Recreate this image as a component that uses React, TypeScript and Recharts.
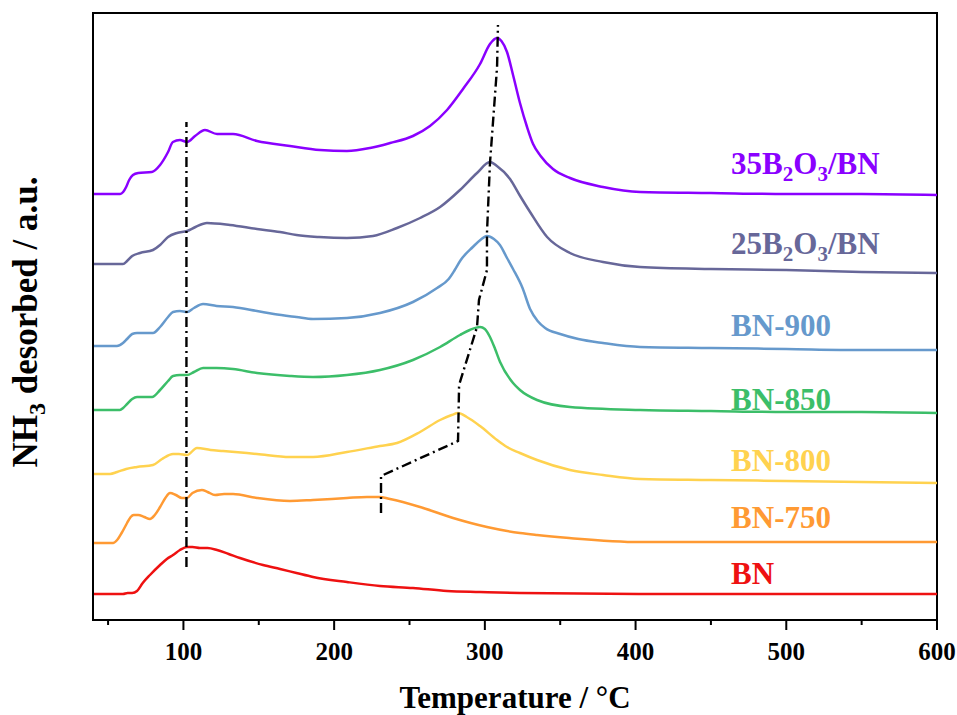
import React from 'react';
import { LineChart, Line, XAxis, YAxis, ReferenceArea, ReferenceDot } from 'recharts';

type Pt = { t: number; v: number };
const pts = (a: number[][]): Pt[] => a.map(([t, v]) => ({ t, v }));

// NH3-TPD traces, stacked (a.u.), temperature in °C
const bn = pts([
  [40, 26], [50, 26], [59.9, 26], [63, 27], [66, 27], [69.2, 29], [73, 37], [77.8, 45], [84.5, 55], [89, 61],
  [93.1, 65], [97.7, 70], [102.4, 73], [106, 73], [111, 72], [116, 72], [122.3, 70], [130, 66], [137.5, 62],
  [152.8, 55], [164.1, 51], [175, 47], [186, 43], [208.5, 38], [230.4, 34], [252.3, 32], [274.9, 29],
  [296.8, 28], [323.3, 27], [403, 26], [450, 26], [500, 26], [550, 26], [600, 26],
]);

const bn750 = pts([
  [40, 77], [50, 77], [53.3, 77], [56, 80], [59, 87], [62.6, 97], [65, 103], [67, 105], [70, 105], [74, 103],
  [77.8, 101], [81, 105], [84.5, 113], [88, 122], [91.1, 127], [95, 125], [99, 122], [102.4, 122], [106, 127],
  [112.3, 130], [116, 128], [121, 125], [127, 126], [132.9, 126], [148.8, 122], [170.7, 119], [186, 120],
  [208.5, 122], [221.8, 123], [230, 123], [237.1, 121], [257, 113], [278.9, 102], [301.4, 93], [323.3, 87],
  [334.6, 85], [356, 82], [403, 78], [450, 78], [500, 78], [550, 78], [600, 78],
]);

const bn800 = pts([
  [40, 146], [51.3, 146], [56, 148], [62, 151], [69.2, 153], [79.8, 155], [85.8, 161], [93.1, 166], [97, 166],
  [102.4, 165], [109, 172], [118, 170], [126.3, 169], [148.8, 166], [170.7, 163], [186, 163], [208.5, 168],
  [230.4, 174], [241.7, 177], [257, 188], [270.3, 200], [278, 205], [282.2, 207], [288, 203], [296.8, 194],
  [308.1, 180], [314.7, 173], [323.3, 167], [334.6, 160], [356.5, 150], [378.4, 145], [403, 141], [450, 140],
  [500, 139], [550, 138], [600, 137],
]);

const bn850 = pts([
  [40, 210], [50, 210], [57.9, 210], [60, 212], [62.6, 216], [66, 221], [69.2, 223], [79.2, 223], [84.5, 230],
  [89.8, 239], [93.1, 244], [97.7, 245], [102.4, 245], [107, 248], [113, 252], [122, 252], [132.9, 251],
  [148.8, 247], [170.7, 244], [186, 243], [208.5, 245], [230.4, 250], [252.3, 260], [270.3, 273], [283.5, 285],
  [290, 290], [296.8, 293], [300, 291], [303.4, 283], [306.8, 271], [310.1, 258], [318.7, 237], [323.3, 230],
  [334.6, 220], [356.5, 213], [403, 210], [450, 209], [500, 208], [550, 208], [600, 207],
]);

const bn900 = pts([
  [40, 274], [50, 274], [55.9, 274], [59.9, 277], [62.6, 281], [66, 286], [69.2, 287], [79.8, 287], [84.5, 293],
  [89.8, 303], [93.1, 308], [97.7, 309], [102.4, 308], [107, 312], [113, 316], [122, 314], [132.9, 313],
  [148.8, 309], [160, 306], [175, 303], [186, 301], [208.5, 302], [230.4, 307], [252.3, 318], [268.3, 332],
  [276, 341], [280, 350], [284, 360], [292, 373], [297, 380], [301.4, 384], [306, 381], [310, 375], [314.7, 362],
  [318.7, 351], [325, 332], [330, 311], [335, 299], [340, 292], [350, 286], [362, 281], [378.4, 277],
  [403, 273], [450, 272], [500, 271], [550, 270], [600, 270],
]);

const b2o3_25 = pts([
  [40, 356], [50, 356], [59.9, 356], [62.6, 359], [66, 364], [71.2, 367], [79.8, 370], [84.5, 375], [89.8, 383],
  [95.7, 387], [102.4, 389], [108, 393], [115.6, 397], [130.9, 395], [148.8, 391], [164.1, 388], [175, 385],
  [190, 383], [208.5, 382], [225.8, 384], [241.7, 392], [257, 402], [270.3, 413], [283.5, 430], [294.8, 447],
  [303.4, 458], [308, 454], [316.7, 441], [323, 425], [330, 408], [341.3, 383], [356.5, 367], [378.4, 358],
  [403, 353], [450, 351], [500, 350], [550, 348], [600, 347],
]);

const b2o3_35 = pts([
  [40, 426], [50, 426], [58, 426], [60, 428], [62, 433], [64, 440], [66.5, 445], [70, 447], [79, 448], [84.5, 455],
  [89.8, 468], [93, 478], [97.7, 480], [102.4, 478], [107.7, 484], [114.3, 490], [122.3, 486], [132.9, 486],
  [148.8, 479], [170.7, 474], [190.6, 470], [208.5, 469], [223.8, 472], [237.1, 477], [252.3, 484],
  [263.6, 494], [274.9, 510], [285.5, 531], [296.8, 556], [303.4, 576], [308.1, 582], [311, 579],
  [314.7, 568], [318.7, 545], [323.3, 517], [328, 493], [332, 476], [337, 464], [345.2, 451], [356.5, 442],
  [378.4, 433], [403, 428], [450, 427], [500, 426], [550, 426], [600, 425],
]);

// guide lines (dash-dot)
const lowTempGuide = pts([[102, 53], [102, 498]]);
const highTempGuide = pts([
  [231.1, 107], [231.1, 144], [282.2, 179], [282.9, 235], [294.8, 293], [296.1, 320], [301.4, 350],
  [301.4, 387], [303.4, 457], [308.1, 553], [308.7, 595],
]);

// major ticks carry labels, the ones in between are minor
const xTicks = [50, 100, 150, 200, 250, 300, 350, 400, 450, 500, 550, 600];

const names: [string, boolean][][] = [
  [['BN', false]],
  [['BN-750', false]],
  [['BN-800', false]],
  [['BN-850', false]],
  [['BN-900', false]],
  [['25B', false], ['2', true], ['O', false], ['3', true], ['/BN', false]],
  [['35B', false], ['2', true], ['O', false], ['3', true], ['/BN', false]],
];
const seriesData = [bn, bn750, bn800, bn850, bn900, b2o3_25, b2o3_35];
const labelY = [36, 92, 149, 210, 284, 366, 446];
const labelT = 463.4;

const colors = ['#EE1111', '#FF9A33', '#FFD24F', '#3CBE69', '#6699CC', '#676799', '#8A00FF'];

const FONT = '"Liberation Serif", "Times New Roman", serif';

const SampleLabel = ({ cx, cy, parts, color }: any) => {
  let down = false;
  return (
    <text x={cx} y={cy} fill={color} fontFamily={FONT} fontWeight="bold" fontSize={31}>
      {parts.map(([s, sub]: [string, boolean], i: number) => {
        let dy = 0;
        if (sub && !down) { dy = 7; down = true; }
        else if (!sub && down) { dy = -7; down = false; }
        return (
          <tspan key={i} dy={dy} fontSize={sub ? 21 : 31}>{s}</tspan>
        );
      })}
    </text>
  );
};

const TempTick = ({ x, y, payload }: any) => {
  const major = payload.value % 100 === 0;
  return (
    <g>
      <line x1={x} x2={x} y1={y} y2={y + (major ? 10 : 5)} stroke="#000" strokeWidth={2} />
      {major && (
        <text x={x} y={y + 40} textAnchor="middle" fill="#000" fontFamily={FONT} fontWeight="bold" fontSize={25}>
          {payload.value}
        </text>
      )}
    </g>
  );
};

const App: React.FC = () => {
  return (
    <div style={{ width: 957, height: 715 }}>
      <style>{`body{margin:0;overflow:hidden;background:#fff}`}</style>
      <LineChart width={957} height={715} margin={{ top: 13, right: 20, bottom: 0, left: 0 }}>
        <XAxis
          type="number"
          dataKey="t"
          domain={[40, 600]}
          allowDataOverflow
          ticks={xTicks}
          interval={0}
          tickSize={0}
          tickMargin={0}
          tickLine={false}
          height={95}
          axisLine={{ stroke: '#000', strokeWidth: 2 }}
          tick={<TempTick />}
          label={(props: any) => {
            const vb = props.viewBox || { x: 93, width: 844, y: 620 };
            return (
              <text x={vb.x + vb.width / 2} y={708} textAnchor="middle" fontFamily={FONT} fontWeight="bold" fontSize={31} fill="#000">
                Temperature / °C
              </text>
            );
          }}
        />
        <YAxis
          type="number"
          domain={[0, 607]}
          allowDataOverflow
          width={93}
          tick={false}
          tickLine={false}
          axisLine={{ stroke: '#000', strokeWidth: 2 }}
          label={() => (
            <text x={37} y={322} transform="rotate(-90, 37, 322)" textAnchor="middle" fontFamily={FONT} fontWeight="bold" fontSize={35} fill="#000">
              NH<tspan dy={8} fontSize={24}>3</tspan><tspan dy={-8}> desorbed / a.u.</tspan>
            </text>
          )}
        />
        <ReferenceArea x1={40} x2={600} y1={0} y2={607} fill="none" stroke="#000" strokeWidth={2} ifOverflow="visible" />
        {seriesData.map((d, i) => (
          <Line
            key={i}
            data={d}
            dataKey="v"
            type="monotone"
            stroke={colors[i]}
            strokeWidth={2.5}
            dot={false}
            activeDot={false}
            isAnimationActive={false}
          />
        ))}
        <Line data={lowTempGuide} dataKey="v" type="linear" stroke="#000" strokeWidth={2.4} strokeDasharray="10 4 2 4" dot={false} activeDot={false} isAnimationActive={false} />
        <Line data={highTempGuide} dataKey="v" type="linear" stroke="#000" strokeWidth={2.4} strokeDasharray="10 4 2 4" dot={false} activeDot={false} isAnimationActive={false} />
        {names.map((parts, i) => (
          <ReferenceDot
            key={`lbl-${i}`}
            x={labelT}
            y={labelY[i]}
            r={0}
            ifOverflow="visible"
            shape={(p: any) => <SampleLabel cx={p.cx} cy={p.cy} parts={parts} color={colors[i]} />}
          />
        ))}
      </LineChart>
    </div>
  );
};

export default App;
